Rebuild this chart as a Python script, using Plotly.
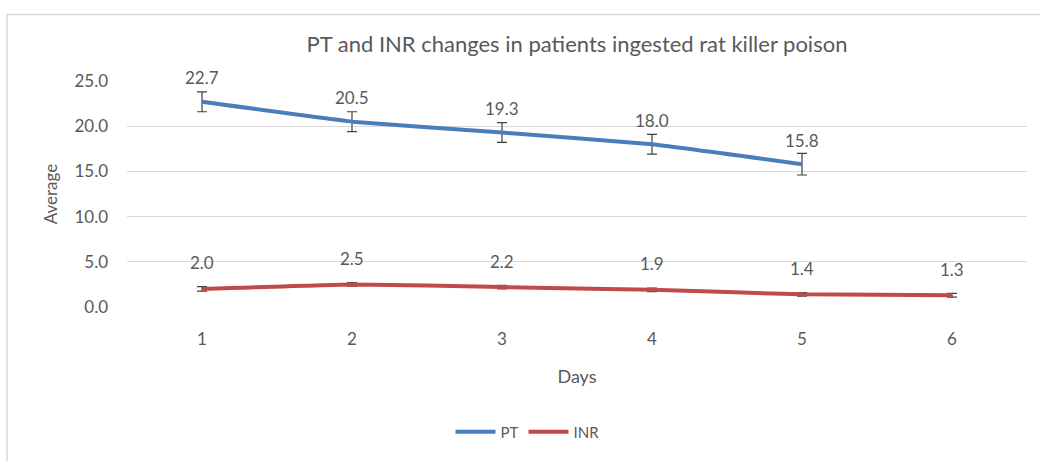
import plotly.graph_objects as go

days = [1, 2, 3, 4, 5, 6]
pt_days = [1, 2, 3, 4, 5]
pt_values = [22.7, 20.5, 19.3, 18.0, 15.8]
pt_errors = [1.1, 1.1, 1.1, 1.1, 1.2]
inr_values = [2.0, 2.5, 2.2, 1.9, 1.4, 1.3]
inr_errors = [0.25, 0.2, 0.2, 0.2, 0.2, 0.2]
y_ticks = [0, 5, 10, 15, 20, 25]

PT_COLOR = "#4a7ebb"
INR_COLOR = "#be4b48"
TXT = "#595959"
FONT = "Lato, 'Open Sans', sans-serif"

fig = go.Figure()
fig.add_trace(go.Scatter(
    x=pt_days, y=pt_values, mode="lines", name="PT",
    line=dict(color=PT_COLOR, width=4, shape="spline", smoothing=0.3),
    error_y=dict(type="data", array=pt_errors, color="#404040", thickness=1.2, width=5),
))
fig.add_trace(go.Scatter(
    x=days, y=inr_values, mode="lines", name="INR",
    line=dict(color=INR_COLOR, width=4, shape="spline", smoothing=0.3),
    error_y=dict(type="data", array=inr_errors, color="#404040", thickness=1.2, width=5),
))

for x, v in zip(pt_days, pt_values):
    fig.add_annotation(x=x, y=v, text=f"{v:.1f}", showarrow=False, yshift=24,
                       font=dict(size=17, color=TXT, family=FONT))
for x, v in zip(days, inr_values):
    fig.add_annotation(x=x, y=v, text=f"{v:.1f}", showarrow=False, yshift=26,
                       font=dict(size=17, color=TXT, family=FONT))

# outer chart border
fig.add_shape(type="rect", xref="paper", yref="paper",
              x0=-0.1333, x1=1.05, y0=-0.70, y1=1.294,
              line=dict(color="#d9d9d9", width=1.5), layer="below")

fig.update_layout(
    width=1040, height=461,
    margin=dict(l=127, r=13, t=81, b=152),
    paper_bgcolor="white", plot_bgcolor="white",
    font=dict(family=FONT, color=TXT, size=17),
    title=dict(text="PT and INR changes in patients ingested rat killer poison",
               x=0.5, xanchor="center", y=1 - 44 / 461, yanchor="middle",
               xref="paper",
               font=dict(size=22, color=TXT, family=FONT)),
    xaxis=dict(range=[0.5, 6.5], tickvals=days, ticktext=[str(d) for d in days],
               showgrid=False, zeroline=False, showline=False, ticks="",
               tickfont=dict(size=17, color=TXT), ticklabelstandoff=20,
               title=dict(text="Days", font=dict(size=18, color=TXT), standoff=22)),
    yaxis=dict(range=[0, 25], tickvals=y_ticks, ticktext=[f"{t:.1f}" for t in y_ticks],
               showgrid=True, gridcolor="#d9d9d9", gridwidth=1, zeroline=False,
               showline=False, ticks="", tickfont=dict(size=17, color=TXT),
               ticklabelstandoff=18,
               title=dict(text="Average", font=dict(size=17, color=TXT), standoff=12)),
    legend=dict(orientation="h", x=0.445, xanchor="center", y=-0.553, yanchor="middle",
                font=dict(size=15, color=TXT), itemwidth=40),
    showlegend=True,
)

fig.write_html("out.html", post_script="document.body.style.margin='0';",
               config={"displayModeBar": False})
